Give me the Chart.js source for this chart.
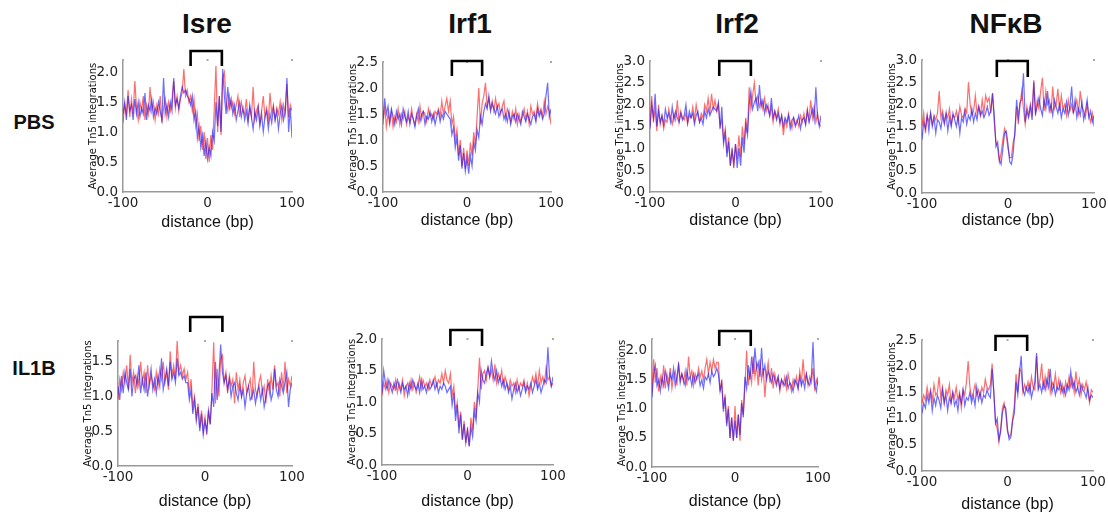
<!DOCTYPE html>
<html>
<head>
<meta charset="utf-8">
<script src="https://cdn.jsdelivr.net/npm/chart.js@4/dist/chart.umd.min.js"></script>
<style>
body { margin: 0; background: #fff; width: 1108px; height: 513px; position: relative; overflow: hidden; font-family: "Liberation Sans", Arial, sans-serif; }
.colTitle { position: absolute; font-weight: bold; font-size: 28px; color: #111; transform: translate(-50%, -50%); white-space: nowrap; }
.rowTitle { position: absolute; font-weight: bold; font-size: 20px; color: #111; transform: translate(-50%, -50%); white-space: nowrap; }
canvas { position: absolute; }
</style>
</head>
<body>
<script>
// categories
const targets = ['Isre', 'Irf1', 'Irf2', 'NFκB'];
const conditions = ['PBS', 'IL1B'];
const xTicks = [-100, 0, 100];
const yMaxPbs = [2.2, 2.5, 3.0, 3.0];
const yMaxIl1b = [1.8, 2.0, 2.2, 2.5];
// motif edges (bp) for the brackets
const motifPbs = [[-20, 17], [-18, 18], [-19, 18], [-13, 23]];
const motifIl1b = [[-17, 20], [-20, 17], [-19, 19], [-14, 23]];

// values every 2 bp from -100 to 100
const isrePbsRed = [1.15,1.45,1.3,1.7,1.25,1.55,1.3,1.85,1.4,1.2,
1.5,1.35,1.6,1.2,1.45,1.3,1.75,1.35,1.5,1.2,
1.45,1.3,1.6,1.15,1.4,1.55,1.25,1.5,1.35,1.55,
1.85,1.4,1.6,1.35,1.55,1.65,2.05,1.6,1.7,1.5,
1.6,1.35,1.55,1.1,1.3,0.85,1.1,0.7,1.0,0.55,
0.9,0.5,0.95,0.7,1.4,2.1,1.0,1.6,0.95,1.9,
2.0,1.5,1.35,1.6,1.4,1.5,1.3,1.45,1.6,1.25,
1.5,1.35,1.3,1.55,1.2,1.4,1.25,1.75,1.2,1.35,
1.45,1.15,1.35,1.6,1.25,1.4,1.2,1.65,1.3,1.45,
1.2,1.4,1.3,1.5,1.2,1.45,1.3,1.8,1.25,1.45,1.35];
const isrePbsBlue = [1.3,1.5,1.2,1.6,1.35,1.45,1.2,1.55,1.3,1.5,
1.25,1.4,1.3,1.65,1.2,1.45,1.35,1.55,1.25,1.4,
1.3,1.5,1.35,1.2,1.9,1.3,1.45,1.25,1.5,1.35,
1.9,1.45,1.55,1.4,1.6,1.75,1.65,1.7,1.6,1.55,
1.45,1.6,1.2,1.35,0.9,1.1,0.75,0.95,0.6,0.85,
0.55,0.75,0.6,1.0,0.85,1.5,1.1,1.6,1.0,2.05,
1.6,1.3,1.75,1.4,1.55,1.3,1.45,1.2,1.35,1.5,
1.25,1.4,1.2,1.35,1.15,1.45,1.25,1.05,1.35,1.2,
1.4,1.1,1.3,1.0,1.25,1.35,1.05,1.3,1.15,1.4,
1.2,1.35,1.05,1.3,1.45,1.2,1.35,1.9,1.0,1.4,0.9];

const irf1PbsRed = [1.3,1.65,1.25,1.5,1.3,1.55,1.25,1.45,1.35,1.6,
1.3,1.5,1.4,1.55,1.3,1.45,1.35,1.6,1.4,1.3,
1.5,1.35,1.65,1.4,1.55,1.5,1.35,1.6,1.45,1.5,
1.4,1.55,1.5,1.6,1.45,1.75,1.5,1.65,1.8,1.55,
1.75,1.3,1.45,1.0,1.2,0.7,1.0,0.5,0.85,0.45,
0.8,0.5,0.95,0.7,1.15,0.9,1.45,2.0,1.3,1.7,
1.85,2.1,1.65,1.8,1.6,1.75,1.55,1.8,1.6,1.7,
1.5,1.65,1.75,1.4,1.6,1.5,1.35,1.55,1.4,1.6,
1.3,1.5,1.35,1.45,1.6,1.4,1.55,1.3,1.65,1.5,
1.55,1.4,1.7,1.5,1.6,1.45,1.75,1.5,1.65,1.55,1.3];
const irf1PbsBlue = [1.4,1.8,1.5,1.65,1.35,1.6,1.45,1.3,1.55,1.4,
1.5,1.3,1.6,1.45,1.35,1.55,1.3,1.5,1.4,1.25,
1.45,1.6,1.35,1.5,1.55,1.3,1.45,1.4,1.55,1.35,
1.5,1.3,1.45,1.55,1.35,1.5,1.4,1.55,1.5,1.45,
1.4,1.1,1.25,0.85,1.05,0.6,0.9,0.45,0.75,0.4,
0.65,0.35,0.7,0.5,0.95,0.8,1.2,1.05,1.45,1.3,
1.55,1.7,1.6,1.85,1.55,1.7,1.6,1.5,1.65,1.45,
1.55,1.6,1.4,1.5,1.35,1.55,1.3,1.45,1.5,1.35,
1.5,1.4,1.3,1.55,1.45,1.35,1.5,1.4,1.3,1.45,
1.5,1.35,1.6,1.45,1.55,1.4,1.5,1.85,2.1,1.45,1.6];

const irf2PbsRed = [1.5,2.2,1.6,1.9,1.4,2.0,1.55,1.75,1.45,1.65,
1.6,1.9,1.7,1.55,1.8,1.65,2.1,1.6,1.85,1.7,
1.65,1.8,1.55,1.75,1.7,1.95,1.65,2.0,1.75,1.6,
1.8,1.7,2.0,1.85,2.15,1.8,2.25,1.9,2.1,1.85,
2.0,1.5,1.65,1.2,1.45,0.9,1.25,0.6,1.0,0.55,
1.1,0.75,1.3,0.8,1.5,1.1,1.7,1.35,2.4,1.9,
2.2,2.5,2.05,2.2,1.95,2.1,1.9,2.15,1.85,2.0,
1.75,1.95,1.6,1.85,1.7,1.9,1.55,1.75,1.3,1.65,
1.5,1.8,1.6,1.45,1.7,1.55,1.65,1.5,1.75,1.6,
1.8,1.55,1.9,1.65,2.1,1.7,1.95,1.6,1.8,1.55,1.5];
const irf2PbsBlue = [1.45,2.0,1.7,2.25,1.5,1.85,1.6,1.75,1.55,1.9,
1.7,1.8,1.6,1.95,1.65,1.85,1.7,1.6,1.8,1.65,
1.75,2.0,1.6,1.85,1.7,1.8,1.55,1.75,1.85,1.6,
1.7,1.55,1.85,1.7,1.9,1.75,1.85,1.95,1.9,1.85,
2.05,1.45,1.95,1.1,1.35,0.8,1.15,0.6,0.95,0.65,
1.1,0.55,1.0,0.6,1.25,0.9,1.55,1.3,2.0,2.3,
1.9,2.05,2.15,1.85,2.45,1.95,2.1,1.8,2.0,1.9,
1.75,2.15,1.7,1.85,1.65,1.8,1.6,1.75,1.5,1.7,
1.6,1.75,1.45,1.65,1.7,1.5,1.6,1.75,1.45,1.65,
1.7,1.55,1.85,1.6,1.75,1.9,1.65,2.4,1.7,1.5,1.75];

const nfkbPbsRed = [1.5,1.8,1.35,1.75,1.6,1.8,1.55,1.75,1.65,1.8,
2.3,1.7,1.85,1.6,1.8,1.7,1.9,1.55,1.75,1.7,
1.85,1.6,1.95,1.75,1.7,1.9,1.8,2.5,2.0,1.75,
1.85,2.2,1.8,1.95,1.75,2.1,1.8,2.2,2.05,2.15,
1.8,2.25,1.6,1.15,1.0,0.7,0.9,1.2,1.45,1.3,
1.0,0.8,0.8,1.15,1.3,1.95,1.55,2.0,2.3,1.9,
1.55,1.95,1.75,2.0,1.8,2.55,1.75,2.1,1.9,2.3,
2.6,1.85,2.3,2.0,2.1,1.8,2.4,1.9,2.0,2.35,
1.85,2.2,1.9,2.0,1.75,2.1,1.85,2.0,1.8,1.95,
2.1,1.8,2.3,1.95,1.85,1.7,2.0,1.75,1.6,1.8,1.5];
const nfkbPbsBlue = [1.2,1.6,1.45,1.75,1.4,1.8,1.5,1.7,1.35,1.65,
1.6,1.45,1.75,1.55,1.8,1.4,1.7,1.5,1.8,1.65,
1.5,1.75,1.35,1.7,1.6,1.85,1.55,1.75,1.65,1.9,
1.6,1.8,1.65,1.95,1.75,1.85,1.7,1.8,1.95,1.75,
1.85,2.25,1.75,1.05,1.15,0.75,0.65,1.0,1.35,1.4,
1.1,0.7,0.65,0.9,1.4,2.1,1.7,2.05,2.1,2.7,
1.6,1.85,1.7,1.95,1.65,2.5,1.8,1.95,2.15,1.9,
1.75,2.1,1.9,2.3,1.85,2.0,1.75,2.1,1.95,1.8,
2.0,1.7,1.9,1.8,2.05,1.75,1.95,2.4,1.8,2.1,
1.7,1.9,1.75,2.05,1.65,1.85,2.1,1.7,1.85,1.6,1.75];

const isreIl1bRed = [0.95,1.25,1.1,1.35,1.2,1.45,1.1,1.6,1.2,1.35,
1.05,1.3,1.15,1.5,1.2,1.35,1.05,1.45,1.15,1.3,
1.2,1.1,1.35,1.15,1.4,1.25,1.5,1.2,1.35,1.1,
1.65,1.3,1.45,1.25,1.8,1.35,1.45,1.3,1.4,1.25,
1.35,1.05,1.25,0.85,1.0,0.7,0.9,0.55,0.8,0.5,
0.7,0.45,0.8,0.6,1.1,1.78,0.9,1.4,1.0,1.55,
1.6,1.2,1.35,1.05,1.3,1.15,1.25,0.9,1.35,1.1,
1.25,1.0,1.2,1.3,1.05,1.15,1.25,0.95,1.5,1.1,
1.0,1.2,1.3,1.05,1.15,0.9,1.25,1.05,1.3,1.1,
1.45,1.15,1.2,1.0,1.35,1.1,1.5,1.05,1.25,1.15,1.3];
const isreIl1bBlue = [1.15,0.95,1.3,1.05,1.35,1.2,1.1,1.4,1.0,1.25,
1.3,1.15,1.45,1.05,1.25,1.1,1.35,1.0,1.2,1.4,
1.1,1.25,1.05,1.3,1.15,1.55,1.1,1.25,1.4,1.15,
1.5,1.25,1.35,1.2,1.55,1.3,1.35,1.25,1.3,1.2,
1.2,0.95,1.1,0.75,0.95,0.65,0.85,0.5,0.75,0.45,
0.65,0.5,0.8,0.6,1.05,0.85,1.5,0.95,1.3,1.75,
1.35,1.2,1.3,1.1,1.25,1.0,1.15,1.2,1.05,0.95,
1.15,1.0,1.1,0.85,1.05,1.15,0.95,1.0,1.1,0.9,
1.05,1.15,0.95,1.1,0.85,1.0,1.15,1.2,0.95,1.05,
1.4,1.1,1.0,1.25,1.15,1.05,1.2,1.35,0.85,1.1,1.2];

const irf1Il1bRed = [1.1,1.3,1.2,1.35,1.15,1.3,1.25,1.2,1.35,1.15,
1.3,1.2,1.35,1.1,1.25,1.3,1.15,1.35,1.2,1.3,
1.15,1.25,1.4,1.2,1.35,1.25,1.3,1.2,1.35,1.25,
1.3,1.4,1.25,1.35,1.3,1.45,1.3,1.5,1.35,1.3,
1.45,1.1,1.25,0.85,1.0,0.6,0.85,0.4,0.7,0.35,
0.6,0.3,0.75,0.55,1.0,0.8,1.2,1.7,1.2,1.45,
1.5,1.35,1.55,1.4,1.5,1.35,1.6,1.3,1.45,1.35,
1.5,1.25,1.4,1.3,1.2,1.35,1.25,1.3,1.15,1.35,
1.2,1.3,1.25,1.35,1.2,1.3,1.1,1.25,1.4,1.3,
1.45,1.25,1.5,1.3,1.4,1.3,1.55,1.35,1.4,1.25,1.3];
const irf1Il1bBlue = [1.15,1.5,1.3,1.2,1.35,1.25,1.15,1.3,1.2,1.35,
1.25,1.15,1.3,1.2,1.25,1.1,1.3,1.2,1.35,1.25,
1.2,1.3,1.15,1.35,1.2,1.25,1.15,1.3,1.2,1.25,
1.35,1.2,1.3,1.15,1.25,1.2,1.3,1.25,1.15,1.2,
1.25,0.95,1.15,0.7,0.95,0.5,0.8,0.4,0.65,0.35,
0.55,0.3,0.6,0.45,0.85,0.7,1.15,1.0,1.5,1.35,
1.3,1.45,1.55,1.4,1.65,1.45,1.35,1.5,1.3,1.4,
1.25,1.35,1.2,1.3,1.15,1.25,1.05,1.2,1.3,1.15,
1.25,1.1,1.2,1.3,1.15,1.25,1.2,1.3,1.15,1.25,
1.35,1.2,1.3,1.15,1.25,1.35,1.3,1.87,1.4,1.25,1.4];

const irf2Il1bRed = [1.3,1.85,1.45,1.7,1.3,1.55,1.4,1.75,1.35,1.6,
1.45,1.7,1.35,1.55,1.65,1.4,1.8,1.5,1.6,1.45,
1.65,1.4,1.9,1.55,1.65,1.4,1.6,1.5,1.7,1.55,
1.65,1.5,1.7,1.85,1.6,1.8,1.65,1.85,1.7,1.8,
1.8,1.3,1.5,1.0,1.25,0.75,1.05,0.5,0.85,0.45,
1.05,0.5,0.9,0.45,1.15,0.9,1.4,2.0,1.4,1.65,
1.45,1.9,1.55,1.75,1.4,1.85,1.5,1.7,1.2,1.6,
1.8,1.45,1.7,1.35,1.6,1.45,1.55,1.3,1.5,1.4,
1.55,1.35,1.6,1.45,1.3,1.5,1.4,1.55,1.35,1.65,
1.45,1.85,1.5,1.6,1.4,1.55,1.45,1.7,1.35,1.5,1.4];
const irf2Il1bBlue = [1.2,1.6,1.75,1.4,1.5,1.3,1.55,1.4,1.65,1.5,
1.35,1.6,1.5,1.7,1.4,1.55,1.75,1.45,1.6,1.5,
1.4,1.65,1.5,1.55,1.4,1.6,1.45,1.55,1.6,1.4,
1.5,1.35,1.55,1.5,1.6,1.45,1.65,1.55,1.6,1.7,
1.6,1.3,1.45,0.95,1.2,0.7,1.0,0.5,0.85,0.45,
0.8,0.5,0.9,0.55,1.1,0.85,1.55,1.35,1.75,1.5,
1.9,1.6,2.05,1.7,1.8,1.55,2.05,1.6,1.75,1.5,
1.65,1.55,1.45,1.6,1.5,1.4,1.55,1.35,1.5,1.45,
1.4,1.55,1.35,1.45,1.4,1.3,1.5,1.45,1.35,1.55,
1.4,1.5,1.35,1.6,1.45,1.4,1.55,2.15,1.4,1.3,1.55];

const nfkbIl1bRed = [1.3,1.45,1.35,1.6,1.4,1.55,1.35,1.65,1.45,1.5,
1.8,1.4,1.6,1.3,1.55,1.45,1.65,1.3,1.5,1.4,
1.6,1.35,1.5,1.2,1.55,1.45,1.7,2.1,1.6,1.4,
1.5,1.65,1.45,1.55,1.4,1.6,1.5,1.75,1.6,1.55,
1.65,2.05,1.5,0.95,0.8,0.55,0.8,1.2,1.3,1.1,
0.75,0.65,0.7,1.0,1.25,1.85,1.5,1.95,1.9,1.5,
1.65,1.55,1.7,1.5,1.8,1.6,1.55,2.2,1.6,1.75,
2.05,1.55,1.8,1.6,1.95,1.5,1.7,1.6,1.85,1.55,
1.75,1.5,1.65,1.45,1.7,1.55,1.8,1.6,1.75,1.5,
1.9,1.6,1.75,1.45,1.65,1.55,1.7,1.5,1.3,1.55,1.5];
const nfkbIl1bBlue = [1.1,1.3,1.2,1.45,1.3,1.5,1.15,1.4,1.25,1.45,
1.35,1.2,1.55,1.3,1.45,1.15,1.4,1.3,1.5,1.25,
1.35,1.15,1.45,1.3,1.55,1.25,1.4,1.35,1.5,1.3,
1.45,1.25,1.6,1.35,1.5,1.3,1.45,1.4,1.55,1.45,
1.4,1.95,1.5,0.9,1.0,0.6,0.75,1.1,1.25,1.2,
0.8,0.6,0.65,0.95,1.1,1.7,1.45,1.85,2.2,1.55,
1.45,1.6,1.5,1.65,1.4,1.55,1.7,2.25,1.55,1.65,
1.5,1.7,1.55,1.75,1.6,1.95,1.5,1.65,1.45,1.6,
1.55,1.7,1.5,1.6,1.45,1.65,1.55,1.9,1.6,1.7,
1.5,1.6,1.45,1.65,1.55,1.5,1.4,1.6,1.35,1.45,1.4];

const seriesRed = [
  [isrePbsRed, irf1PbsRed, irf2PbsRed, nfkbPbsRed],
  [isreIl1bRed, irf1Il1bRed, irf2Il1bRed, nfkbIl1bRed]
];
const seriesBlue = [
  [isrePbsBlue, irf1PbsBlue, irf2PbsBlue, nfkbPbsBlue],
  [isreIl1bBlue, irf1Il1bBlue, irf2Il1bBlue, nfkbIl1bBlue]
];

// page layout: plot boxes [left, top, right, bottom] in page pixels
const plotBoxes = [
  [[123, 60, 292, 192], [383, 62, 551, 192], [650, 61, 821, 192], [922, 60, 1094, 193]],
  [[118, 341, 292, 466], [382, 339, 553, 465], [652, 339, 818, 467], [922, 340, 1093, 471]]
];
const bracketOffsets = [
  [[-9, 6], [-1, 14], [0, 15], [1, 17]],
  [[-24, -9], [-9, 7], [-8, 7], [-4, 11]]
];
const xTitleY = [[223, 221, 221, 221], [502, 502, 502, 505]];
const colTitleX = [207, 470, 737, 1006];
const rowTitleY = [122, 368];

const PAD_TOP = 30, PAD_RIGHT = 18, Y_W = 60, X_H = 55;
const tickFont = { family: '"DejaVu Sans", sans-serif', size: 13.5 };

const motifBracket = {
  id: 'motifBracket',
  afterDraw(chart, args, opts) {
    const { ctx, chartArea, scales } = chart;
    const x1 = scales.x.getPixelForValue(opts.range[0]);
    const x2 = scales.x.getPixelForValue(opts.range[1]);
    const yTop = chartArea.top + opts.off[0];
    const yBot = chartArea.top + opts.off[1];
    ctx.save();
    // tiny top tick marks like the original axes
    ctx.fillStyle = '#aaa';
    xTicks.forEach(v => {
      ctx.fillRect(scales.x.getPixelForValue(v) - 1, chartArea.top - 1, 2, 2);
    });
    ctx.strokeStyle = '#000';
    ctx.lineWidth = 2.6;
    ctx.lineCap = 'butt';
    ctx.lineJoin = 'miter';
    ctx.beginPath();
    ctx.moveTo(x1, yBot);
    ctx.lineTo(x1, yTop);
    ctx.lineTo(x2, yTop);
    ctx.lineTo(x2, yBot);
    ctx.stroke();
    ctx.restore();
  }
};

function toPoints(arr) {
  const step = 200 / (arr.length - 1);
  return arr.map((v, i) => ({ x: -100 + i * step, y: v }));
}

function addText(cls, text, x, y) {
  const d = document.createElement('div');
  d.className = cls;
  d.textContent = text;
  d.style.left = x + 'px';
  d.style.top = y + 'px';
  document.body.appendChild(d);
}

targets.forEach((t, c) => addText('colTitle', t, colTitleX[c], 24));
conditions.forEach((t, r) => addText('rowTitle', t, 34, rowTitleY[r]));

for (let r = 0; r < 2; r++) {
  for (let c = 0; c < 4; c++) {
    const [L, T, R, B] = plotBoxes[r][c];
    const w = (R - L) + Y_W + PAD_RIGHT;
    const h = (B - T) + PAD_TOP + X_H;
    const cv = document.createElement('canvas');
    cv.style.left = (L - Y_W) + 'px';
    cv.style.top = (T - PAD_TOP) + 'px';
    cv.style.width = w + 'px';
    cv.style.height = h + 'px';
    cv.width = w; cv.height = h;
    document.body.appendChild(cv);
    const titleOffset = xTitleY[r][c] - B;

    new Chart(cv, {
      type: 'line',
      data: {
        datasets: [
          { label: 'blue', data: toPoints(seriesBlue[r][c]), borderColor: 'rgba(20,20,255,0.62)', borderWidth: 1.2, pointRadius: 0, tension: 0 },
          { label: 'red', data: toPoints(seriesRed[r][c]), borderColor: 'rgba(255,20,20,0.62)', borderWidth: 1.2, pointRadius: 0, tension: 0 }
        ]
      },
      options: {
        responsive: false,
        animation: false,
        layout: { padding: { top: PAD_TOP, right: PAD_RIGHT, left: 0, bottom: 0 } },
        plugins: {
          legend: { display: false },
          tooltip: { enabled: false },
          motifBracket: { range: (r === 0 ? motifPbs : motifIl1b)[c], off: bracketOffsets[r][c] }
        },
        scales: {
          x: {
            type: 'linear', min: -100, max: 100,
            afterBuildTicks(s) { s.ticks = xTicks.map(v => ({ value: v })); },
            afterFit(s) { s.height = X_H; },
            grid: { display: false, drawTicks: false },
            border: { color: '#999', width: 1.5 },
            ticks: { padding: 3, color: '#222', font: tickFont, maxRotation: 0, autoSkip: false, callback: v => String(v) },
            title: { display: true, text: 'distance (bp)', color: '#111',
              font: { family: '"Liberation Sans", Arial, sans-serif', size: 16 },
              padding: { top: 0, bottom: X_H - titleOffset - 9.6 } }
          },
          y: {
            min: 0, max: (r === 0 ? yMaxPbs : yMaxIl1b)[c],
            afterFit(s) { s.width = Y_W; },
            grid: { display: false, drawTicks: false },
            border: { color: '#999', width: 1.5 },
            ticks: { stepSize: 0.5, includeBounds: false, padding: 5, color: '#222', font: tickFont, callback: v => v.toFixed(1) },
            title: { display: true, text: 'Average Tn5 integrations', color: '#111',
              font: { family: '"DejaVu Sans", sans-serif', size: 10 },
              padding: { top: 24.5, bottom: 0 } }
          }
        }
      },
      plugins: [motifBracket]
    });
  }
}
</script>
</body>
</html>
